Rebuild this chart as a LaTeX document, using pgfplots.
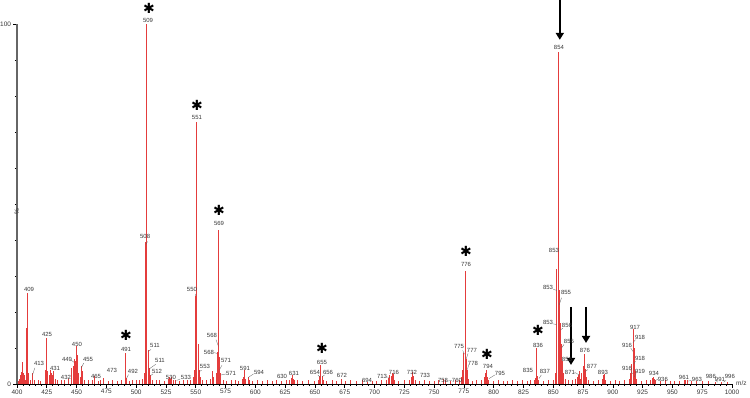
\documentclass[border=0pt]{standalone}
\usepackage{fontspec}
\setmainfont{Liberation Sans}
\newfontfamily\dejavu{DejaVu Sans}
\usepackage{pgfplots}
\usepackage{pgfplotstable}
\pgfplotsset{compat=1.18}
\usetikzlibrary{arrows.meta}
\definecolor{peak}{RGB}{228,60,60}
\definecolor{lab}{RGB}{55,55,55}

\pgfplotstableread{
mz y
401 0.8
402 1.5
403 2.5
404 3.2
404.6 6.2
405 4
405.5 3
406 2.5
407 1.2
408 15.5
409 25.4
410 3
411 1
413 3
415 1
418 1.2
420 0.8
424 4
425 12.8
426 3.5
427 2.5
428 4
429 3
430 2.5
431 3.5
432 1.5
434 1
437 1.2
440 1
443 1.5
446 4.5
447 5
448 7
449 6.5
450 10.5
451 8
452 3
453 2
454 5
455 3.5
457 1.2
460 1
463 1
465 2.2
468 0.8
470 1
473 1.8
477 0.8
480 1
484 0.8
488 1
491 8.6
492 1.8
494 0.8
497 1
500 1.2
503 1
505 1.5
507 3
508 39.5
509 100
510 9.5
511 4.5
512 2.5
514 1
517 1
520 1.2
524 0.8
527 1.5
528 2
529 1.5
530 2
531 1
533 1.2
536 0.8
540 1
543 1
546 1.2
548 2
549 4
550 24.5
551 72.8
552 11
553 4
554 2
556 1
559 1
562 1.5
564 3.5
565 2
567 3
568 9
569 42.8
570 7.5
571 3
573 1
576 0.8
580 1
583 1
586 0.8
589 1.5
590 2
591 3.8
592 1.5
594 2
595 1
598 0.8
602 1
606 0.8
610 1
614 0.8
618 1
622 0.8
626 1
629 1.2
630 1.8
631 2.5
632 1.5
633 1
635 1
640 0.8
645 1
650 0.8
653 1.2
654 2.2
655 5.3
656 2.3
657 1
660 0.8
665 1
668 0.8
672 1.3
676 0.8
680 1
685 0.8
690 1
694 0.6
698 0.8
702 0.8
706 1
710 1
712 1.8
713 2.5
714 2.2
715 3
716 2.8
717 1.2
720 0.8
725 1
729 1
731 2
732 3.2
733 2.2
734 1.2
738 0.8
742 1
746 0.8
750 0.8
754 1
758 1.3
760 1.1
764 0.8
768 1
771 1
773 2
774 4
775 8.5
776 31.5
777 7
778 3.8
779 1.5
782 0.8
786 1
790 1
792 2
793 3
794 4
795 2
796 1
800 0.8
804 1
808 0.8
812 0.8
816 1
820 0.8
824 1
828 0.8
831 1
834 1.2
835 1.8
836 10
837 2.2
838 1
842 0.8
846 1
850 1
852 3
853 32
854 92.2
855 26
856 17
857 11
858 6.5
859 3
860 1.5
863 1
866 1
869 1.5
870 2
871 2.5
872 3.5
873 1.5
874 3
875 5
876 8.2
877 4.2
878 2
880 1
884 0.8
888 1
891 1.5
892 2.5
893 2.8
894 1.2
898 0.8
902 1
906 0.8
910 1
914 1.5
915 3
916 5.5
917 15.3
918 10
919 3.5
920 1.5
924 0.8
928 1
932 1.2
933 1.8
934 2
935 1.5
936 1
940 0.8
944 1
948 0.8
952 0.8
956 0.8
960 1
961 1.1
963 1
966 0.8
970 0.8
975 0.8
980 0.8
986 0.6
991 0.5
996 0.5
}\spectrum

\pgfplotstableread{
x y t
410.1 26.4 409
418.5 5.6 413
425.2 13.9 425
431.9 4.2 431
441.1 1.9 432
442 6.9 449
450.3 11.1 450
459.6 6.9 455
466.3 2.2 465
479.7 3.9 473
491.5 9.7 491
497.3 3.6 492
507.5 41.1 508
510 101.1 509
515.8 10.8 511
520 6.4 511
517.5 3.6 512
529.2 1.9 530
541.8 1.7 533
546.8 26.4 550
551 73.9 551
557.7 5 553
561.1 8.9 568
563.6 13.6 568
569.5 44.7 569
575.4 6.4 571
579.6 2.8 571
591.3 4.4 591
603.1 3.1 594
622.4 2.2 630
632.4 2.8 631
650 3.3 654
655.9 6.1 655
661 3.1 656
672.7 2.5 672
693.7 1.1 694
706.3 2.2 713
716.3 3.1 716
731.4 3.3 732
742.4 2.5 733
757.5 1.1 758
769.2 1.1 760
770.9 10.3 775
776.8 33.1 776
781.8 9.2 777
782.6 5.6 778
795.2 5 794
805.3 2.8 795
828.8 3.9 835
837.2 10.8 836
843 3.6 837
850.6 37.2 853
845.6 26.9 853
860.7 25.3 855
845.6 17.2 853
861.5 16.4 856
863.2 11.7 856
861.5 6.7 856
864 3.3 871
876.6 9.2 876
882.5 5 877
891.7 3.3 893
911.9 10.6 916
918.6 15.8 917
922.8 12.8 918
922.8 7.2 918
911.9 4.4 916
922.8 3.6 919
934.5 2.8 934
942 1.4 936
959.7 1.7 961
970.6 1.4 963
982.3 2.2 986
989.9 1.4 991
998.2 2.2 996
854.8 93.6 854
}\labels

\pgfplotstableread{
x y
510.8 104.4
551 77.5
569.5 48.1
491.5 13.6
655.9 10
776.8 36.9
794.4 8.3
837.2 15
}\stars

\begin{document}
\begin{tikzpicture}
\begin{axis}[
  at={(0bp,0bp)}, anchor=south west,
  scale only axis, width=715bp, height=360bp,
  xmin=400, xmax=1000, ymin=0, ymax=100,
  axis x line*=bottom, axis y line*=left,
  clip=false,
  xtick={400,425,...,1000}, minor x tick num=4,
  ytick={0,100}, minor ytick={10,20,...,90},
  tick align=outside,
  major tick length=3.5bp, minor tick length=2bp,
  tick style={black, line width=0.6bp},
  x axis line style={line width=1bp, black},
  y axis line style={line width=1.8bp, black!60},
  ticklabel style={font=\fontsize{6.5}{7}\selectfont, text=lab},
  xticklabel style={yshift=1.5bp},
  yticklabel style={xshift=1bp},
  /pgf/number format/assume math mode=true,
  /pgf/number format/1000 sep={},
]
\addplot[ycomb, draw=peak, line width=1bp, mark=none] table[x=mz, y=y] {\spectrum};
\addplot[draw=none, mark=none, nodes near coords, point meta=explicit symbolic,
  nodes near coords style={anchor=center, inner sep=0pt, font=\fontsize{6}{6}\selectfont, text=lab}]
  table[x=x, y=y, meta=t] {\labels};
\addplot[draw=none, mark=none, nodes near coords={\dejavu ✱}, 
  nodes near coords style={anchor=center, inner sep=0pt, font=\fontsize{14}{14}\selectfont, text=black}]
  table[x=x, y=y] {\stars};
% leader lines
\begin{scope}[lab!80, line width=0.3bp]
\draw (axis cs:415,4.5) -- (axis cs:413,2.5);
\draw (axis cs:445.5,6.6) -- (axis cs:448,6);
\draw (axis cs:456,5.8) -- (axis cs:454,4.5);
\draw (axis cs:493.5,2.6) -- (axis cs:492,1.6);
\draw (axis cs:512.5,9.6) -- (axis cs:510,9);
\draw (axis cs:516.5,5.5) -- (axis cs:511,4.2);
\draw (axis cs:514,2.8) -- (axis cs:512,2.3);
\draw (axis cs:537,1.4) -- (axis cs:534,1);
\draw (axis cs:555,3.8) -- (axis cs:553,3.5);
\draw (axis cs:567,12.3) -- (axis cs:569,10.5);
\draw (axis cs:565.5,8.7) -- (axis cs:568,8.5);
\draw (axis cs:572,5.2) -- (axis cs:570,4);
\draw (axis cs:575.5,2.8) -- (axis cs:571,2.5);
\draw (axis cs:598.5,2.8) -- (axis cs:594,1.8);
\draw (axis cs:652.5,2.5) -- (axis cs:654,2);
\draw (axis cs:658,2.5) -- (axis cs:656,2);
\draw (axis cs:710,2) -- (axis cs:713,1.8);
\draw (axis cs:765,1) -- (axis cs:761,0.8);
\draw (axis cs:774,9.3) -- (axis cs:775.5,8.3);
\draw (axis cs:778.5,8.5) -- (axis cs:777,7);
\draw (axis cs:779,5.3) -- (axis cs:778,4);
\draw (axis cs:801,2.5) -- (axis cs:796,1.5);
\draw (axis cs:840,2.5) -- (axis cs:838,1.5);
\draw (axis cs:850,26.3) -- (axis cs:853,26);
\draw (axis cs:850,16.7) -- (axis cs:853,16.5);
\draw (axis cs:857,24) -- (axis cs:855,22);
\draw (axis cs:858,15.5) -- (axis cs:856,15);
\draw (axis cs:859,11) -- (axis cs:857,10);
\draw (axis cs:868,3.2) -- (axis cs:872,2.5);
\draw (axis cs:879,4) -- (axis cs:877,3.5);
\draw (axis cs:915,10) -- (axis cs:917,9);
\draw (axis cs:919,12.3) -- (axis cs:917,11.5);
\draw (axis cs:919,6.3) -- (axis cs:917.5,5.5);
\draw (axis cs:915,3.8) -- (axis cs:916.5,2.8);
\draw (axis cs:919.5,3) -- (axis cs:918,2);
\draw (axis cs:938,1.4) -- (axis cs:936,1);
\draw (axis cs:966,1) -- (axis cs:963,0.8);
\draw (axis cs:986,1.2) -- (axis cs:988,0.5);
\draw (axis cs:995,1) -- (axis cs:993,0.5);
\draw (axis cs:549.5,25) -- (axis cs:550,24.5);
\draw (axis cs:509.5,39.6) -- (axis cs:508.3,38.8);
\end{scope}
% arrows
\draw[black, line width=2.4bp, -{Triangle[length=7bp,width=8bp]}] (axis cs:855.5,106.7) -- (axis cs:855.5,95.6);
\draw[black, line width=2.4bp, -{Triangle[length=7bp,width=8bp]}] (axis cs:864.9,21.4) -- (axis cs:864.9,5.3);
\draw[black, line width=2.4bp, -{Triangle[length=7bp,width=8bp]}] (axis cs:877.5,21.4) -- (axis cs:877.5,11.4);
% axis labels
\node[anchor=west, inner sep=0pt, font=\fontsize{6.5}{7}\selectfont, text=lab] at (axis cs:1000,0) [xshift=4bp, yshift=1bp] {m/z};
\node[rotate=90, inner sep=0pt, font=\fontsize{6.5}{7}\selectfont, text=lab] at (axis cs:400,50) [xshift=-8bp] {\%};
\end{axis}
\pgfresetboundingbox
\path (-17bp,-14bp) rectangle (733bp,384bp);
\end{tikzpicture}
\end{document}
